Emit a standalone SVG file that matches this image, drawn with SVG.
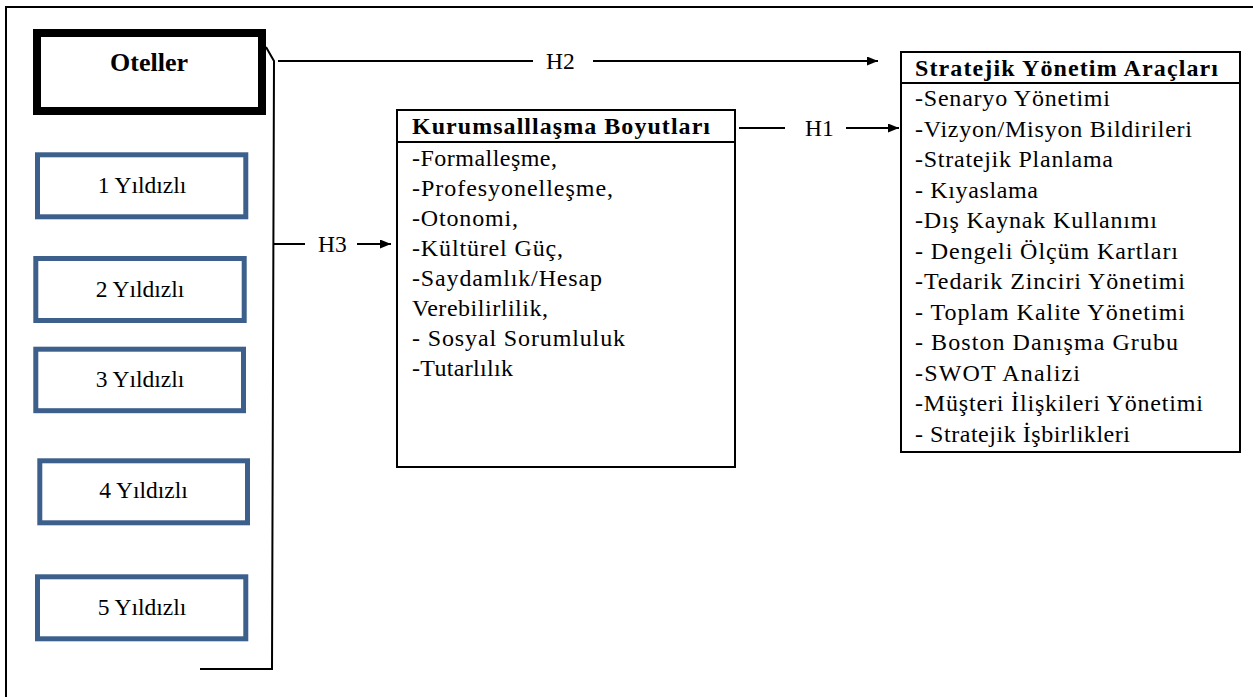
<svg xmlns="http://www.w3.org/2000/svg" width="1253" height="697" viewBox="0 0 1253 697">
  <defs>
    <marker id="arr" markerUnits="userSpaceOnUse" markerWidth="12" markerHeight="9" refX="11" refY="4.5" orient="auto">
      <path d="M0,0 L11,4.5 L0,9 z" fill="#000"/>
    </marker>
    <style>
      .t { font-family: "Liberation Serif", "Times New Roman", serif; fill: #000; }
      .item { font-size: 24px; }
      .hdr { font-size: 24px; font-weight: bold; }
      .star { font-size: 23.5px; text-anchor: middle; }
      .lbl { font-size: 23.5px; }
      .blue { fill: #fff; stroke: #3C5F8C; stroke-width: 5; }
      .box { fill: #fff; stroke: #000; stroke-width: 2; }
      .ln { fill: none; stroke: #000; stroke-width: 2; }
    </style>
  </defs>
  <rect x="0" y="0" width="1253" height="697" fill="#fff"/>
  <rect id="frame" x="6" y="7" width="1270" height="710" fill="none" stroke="#000" stroke-width="2"/>

  <g id="connectors">
    <polyline class="ln" points="266,47 274,61 272,669 200,669"/>
    <line class="ln" x1="278" y1="61" x2="533" y2="61"/>
    <text class="t lbl" x="546" y="69">H2</text>
    <line class="ln" x1="593" y1="61" x2="878" y2="61" marker-end="url(#arr)"/>
    <line class="ln" x1="739" y1="128" x2="785" y2="128"/>
    <text class="t lbl" x="805" y="136">H1</text>
    <line class="ln" x1="846" y1="128" x2="899" y2="128" marker-end="url(#arr)"/>
    <line class="ln" x1="274" y1="244" x2="305" y2="244"/>
    <text class="t lbl" x="318" y="252">H3</text>
    <line class="ln" x1="357" y1="244" x2="391" y2="244" marker-end="url(#arr)"/>
  </g>

  <g id="oteller">
    <rect x="37" y="33" width="225" height="78" fill="#fff" stroke="#000" stroke-width="8"/>
    <text class="t" x="149" y="71" font-size="26" font-weight="bold" text-anchor="middle">Oteller</text>
  </g>
  <g id="star1">
    <rect class="blue" x="37.5" y="154.8" width="208.3" height="62"/>
    <text class="t star" x="142" y="193">1 Yıldızlı</text>
  </g>
  <g id="star2">
    <rect class="blue" x="35.8" y="258.5" width="208.4" height="62"/>
    <text class="t star" x="140" y="297">2 Yıldızlı</text>
  </g>
  <g id="star3">
    <rect class="blue" x="35.8" y="349.2" width="207.7" height="61.5"/>
    <text class="t star" x="140" y="387">3 Yıldızlı</text>
  </g>
  <g id="star4">
    <rect class="blue" x="39.8" y="460.8" width="207.7" height="62"/>
    <text class="t star" x="143.5" y="498">4 Yıldızlı</text>
  </g>
  <g id="star5">
    <rect class="blue" x="37.5" y="576.8" width="208.3" height="62"/>
    <text class="t star" x="142" y="615">5 Yıldızlı</text>
  </g>

  <g id="kurumsallasma">
    <rect class="box" x="397" y="110" width="338" height="357"/>
    <line class="ln" x1="397" y1="142" x2="735" y2="142"/>
    <text class="t hdr" x="412" y="134" textLength="298" lengthAdjust="spacing">Kurumsalllaşma  Boyutları</text>
    <text class="t item" x="412" y="166" textLength="145" lengthAdjust="spacing">-Formalleşme,</text>
    <text class="t item" x="412" y="196" textLength="201" lengthAdjust="spacing">-Profesyonelleşme,</text>
    <text class="t item" x="412" y="226" textLength="106" lengthAdjust="spacing">-Otonomi,</text>
    <text class="t item" x="412" y="256" textLength="151" lengthAdjust="spacing">-Kültürel Güç,</text>
    <text class="t item" x="412" y="286" textLength="190" lengthAdjust="spacing">-Saydamlık/Hesap</text>
    <text class="t item" x="412" y="316" textLength="136" lengthAdjust="spacing">Verebilirlilik,</text>
    <text class="t item" x="412" y="346" textLength="213" lengthAdjust="spacing">- Sosyal Sorumluluk</text>
    <text class="t item" x="412" y="376" textLength="101" lengthAdjust="spacing">-Tutarlılık</text>
  </g>

  <g id="stratejik">
    <rect class="box" x="901" y="52" width="339" height="400"/>
    <line class="ln" x1="901" y1="83" x2="1240" y2="83"/>
    <text class="t hdr" x="915" y="75.5" textLength="303" lengthAdjust="spacing">Stratejik Yönetim  Araçları</text>
    <text class="t item" x="915" y="106" textLength="195" lengthAdjust="spacing">-Senaryo Yönetimi</text>
    <text class="t item" x="915" y="136.5" textLength="277" lengthAdjust="spacing">-Vizyon/Misyon  Bildirileri</text>
    <text class="t item" x="915" y="167" textLength="198" lengthAdjust="spacing">-Stratejik  Planlama</text>
    <text class="t item" x="915" y="197.5" textLength="123" lengthAdjust="spacing">- Kıyaslama</text>
    <text class="t item" x="915" y="228" textLength="242" lengthAdjust="spacing">-Dış Kaynak Kullanımı</text>
    <text class="t item" x="915" y="258.5" textLength="263" lengthAdjust="spacing">- Dengeli Ölçüm  Kartları</text>
    <text class="t item" x="915" y="289" textLength="270" lengthAdjust="spacing">-Tedarik Zinciri  Yönetimi</text>
    <text class="t item" x="915" y="319.5" textLength="270" lengthAdjust="spacing">- Toplam Kalite  Yönetimi</text>
    <text class="t item" x="915" y="350" textLength="263" lengthAdjust="spacing">- Boston Danışma  Grubu</text>
    <text class="t item" x="915" y="380.5" textLength="165" lengthAdjust="spacing">-SWOT  Analizi</text>
    <text class="t item" x="915" y="411" textLength="288" lengthAdjust="spacing">-Müşteri İlişkileri  Yönetimi</text>
    <text class="t item" x="915" y="441.5" textLength="215" lengthAdjust="spacing">- Stratejik İşbirlikleri</text>
  </g>
</svg>
